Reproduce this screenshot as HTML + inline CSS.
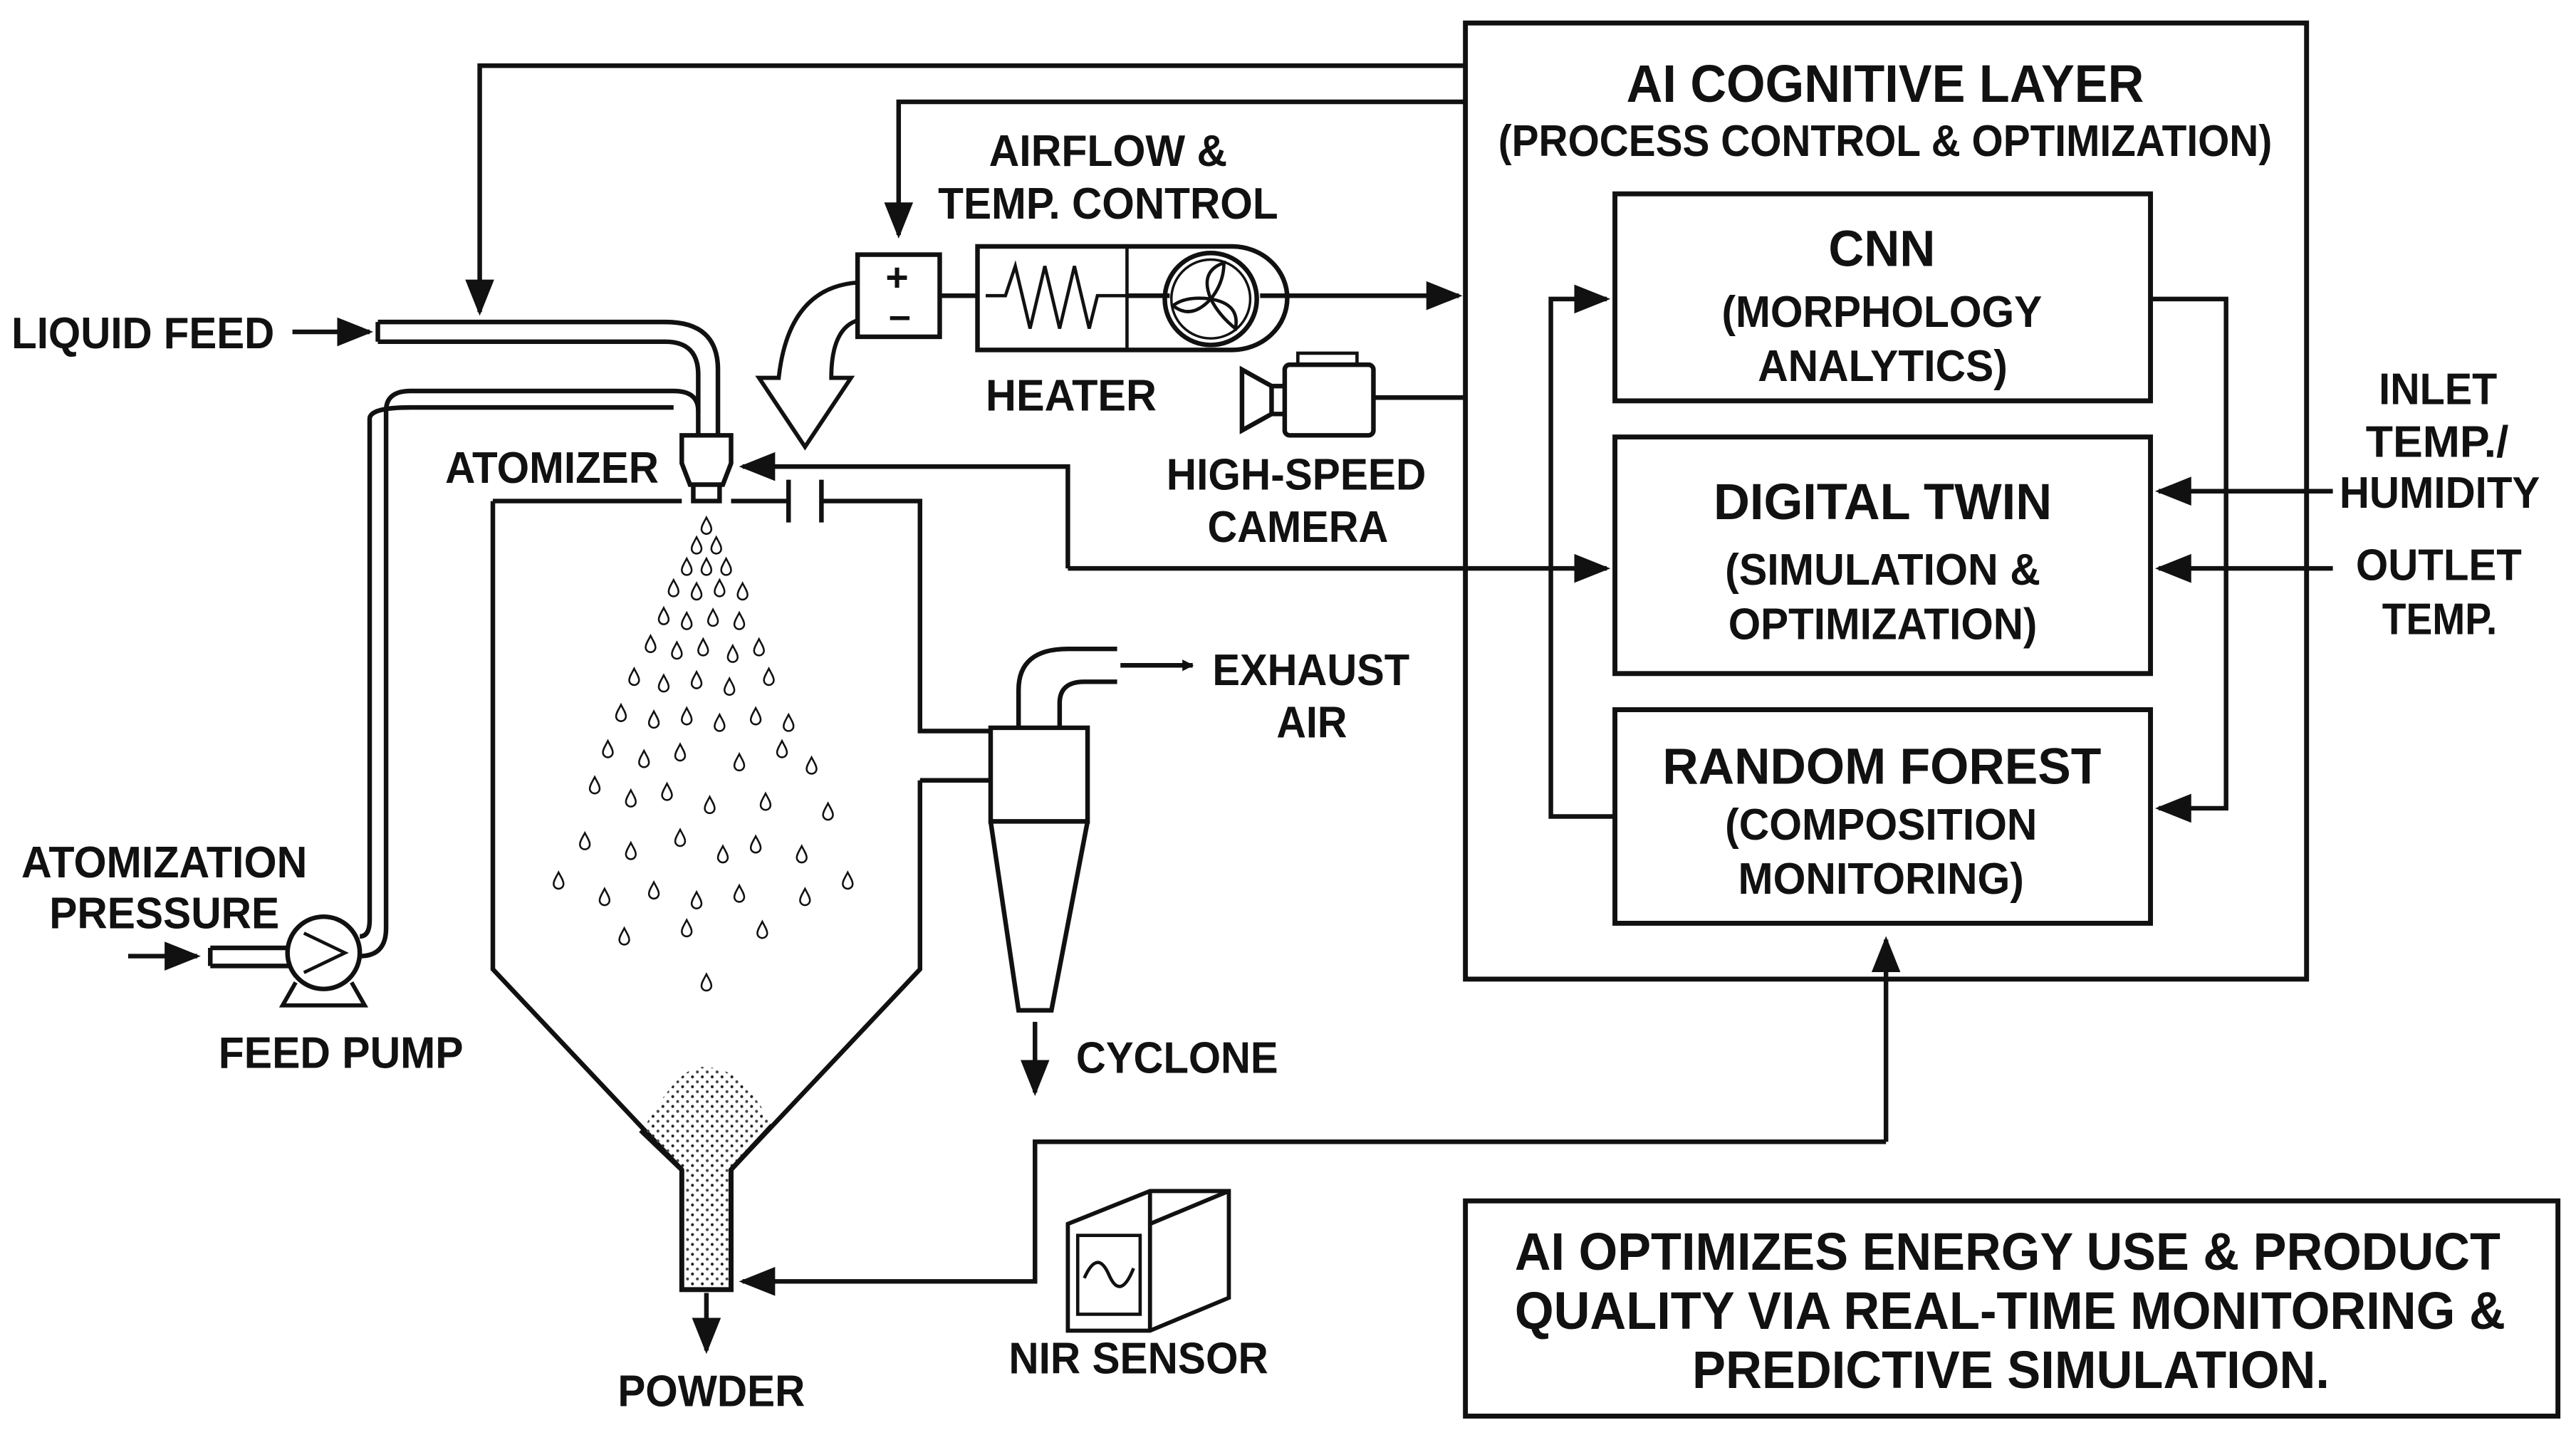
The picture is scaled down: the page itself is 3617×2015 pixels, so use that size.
<!DOCTYPE html>
<html><head><meta charset="utf-8"><style>
html,body{margin:0;padding:0;background:#fff;}
svg{display:block;}
text{font-family:"Liberation Sans",sans-serif;font-weight:bold;fill:#111;}
</style></head><body>
<svg width="3617" height="2015" viewBox="0 0 1568 873.5" preserveAspectRatio="none" xmlns="http://www.w3.org/2000/svg">
<defs>
<marker id="ah" viewBox="0 0 10 10" refX="9" refY="5" markerWidth="7" markerHeight="7" markerUnits="userSpaceOnUse" orient="auto">
<path d="M0,0 L10,5 L0,10 z" fill="#111"/></marker>
<marker id="a2" viewBox="0 0 10 10" refX="9" refY="5" markerWidth="22" markerHeight="22" markerUnits="userSpaceOnUse" orient="auto">
<path d="M0,1 L10,5 L0,9 z" fill="#111"/></marker>
<pattern id="dots" width="6" height="6" patternUnits="userSpaceOnUse">
<circle cx="1.5" cy="1.5" r="0.9" fill="#222"/><circle cx="4.5" cy="4.5" r="0.9" fill="#444"/></pattern>
<path id="dr" d="M0,-5 C1.5,-2 3,0 3,2 A3,3 0 0 1 -3,2 C-3,0 -1.5,-2 0,-5 z" fill="#fff" stroke="#111" stroke-width="1.1"/>
</defs>
<g fill="none" stroke="#111" stroke-width="3">
<rect x="892" y="14" width="512" height="582"/>
<rect x="983" y="118" width="326" height="126"/>
<rect x="983" y="266" width="326" height="144"/>
<rect x="983" y="432" width="326" height="130"/>
<rect x="892" y="731" width="665" height="131"/>
</g>
<g fill="none" stroke="#111" stroke-width="2.8">
<path d="M983,497 H944 V182 H978" marker-end="url(#a2)"/>
<path d="M1309,182 H1355 V492 H1314" marker-end="url(#a2)"/>
<path d="M1420,299 H1314" marker-end="url(#a2)"/>
<path d="M1420,346 H1314" marker-end="url(#a2)"/>
<path d="M892,40 H292 V190" marker-end="url(#a2)"/>
<path d="M892,62 H547 V143" marker-end="url(#a2)"/>
<path d="M767,180 H888" marker-end="url(#a2)"/>
<path d="M835,242 H892"/>
<path d="M650,346 V284 H452" marker-end="url(#a2)"/>
<path d="M650,346 H978" marker-end="url(#a2)"/>
<path d="M1148,695 H630 V780 H452" marker-end="url(#a2)"/>
<path d="M1148,695 V572" marker-end="url(#a2)"/>
<path d="M178,202 H225" marker-end="url(#a2)"/>
<path d="M230,196 H405 Q437,196 437,225 V265"/>
<path d="M230,208 H405 Q425,208 425,228 V265"/>
<path d="M230,196 V208"/>
<path d="M219,582 Q235,582 235,565 V250 Q235,238 250,238 H410 Q425,238 425,250"/>
<path d="M219,570 Q225,570 225,560 V255 Q225,248 250,248 H410"/>
<path d="M78,582 H120" marker-end="url(#a2)"/>
<path d="M128,577 H176 M128,588 H176 M128,577 V588"/>
<path d="M300,305 H415 M445,305 H480 M500,305 H560 V445 H603 M560,475 V590 L445,712 V785 H415 V712 L300,590 V305"/>
<path d="M560,475 H603"/>
<path d="M480,292 V318 M500,292 V318"/>
<path d="M603,443 H662 V500 H603 z"/>
<path d="M603,500 L620,615 H640 L662,500"/>
<path d="M620,443 V420 Q620,395 650,395 H680 M645,443 V428 Q645,415 660,415 H680"/>
<path d="M682,405 H726" marker-end="url(#ah)"/>
<path d="M630,622 V665" marker-end="url(#a2)"/>
<path d="M430,787 V822" marker-end="url(#a2)"/>
<rect x="522" y="155" width="50" height="50"/>
<path d="M572,180 H595"/>
<path d="M595,150 H750 A33,31 0 0 1 750,213 H595 z"/>
<path d="M686,150 V213" stroke-width="2"/>
<path d="M600,180 H612 L618,162 L627,200 L636,162 L645,200 L654,162 L663,200 L668,180 H686" stroke-width="2"/>
<path d="M686,180 H712"/>
<circle cx="737" cy="182" r="28"/>
<circle cx="737" cy="182" r="24" stroke-width="1.5"/>
<path d="M737,182 Q730,165 745,160 Q745,172 737,182 M737,182 Q755,185 752,200 Q742,192 737,182 M737,182 Q725,195 714,186 Q722,180 737,182" stroke-width="2"/>
<path d="M522,172 Q480,175 474,230 H462 L490,272 L518,230 H506 Q506,200 522,195" stroke-width="2.5"/>
<rect x="782" y="222" width="54" height="43" rx="3"/>
<path d="M790,222 V215 H826 V222" stroke-width="2"/>
<path d="M782,235 H774 V252 H782 M774,235 L756,225 V262 L774,252"/>
<path d="M415,265 H445 V282 L440,295 H420 L415,282 z M422,295 V305 H438 V295"/>
<path d="M650,745 L700,725 H748 V790 L700,810 H650 z M700,725 V810 M748,725 L700,745" stroke-width="2.5"/>
<rect x="656" y="752" width="38" height="48" stroke-width="2"/>
<path d="M660,778 Q668,760 675,776 T690,772" stroke-width="2"/>
<circle cx="197" cy="580" r="22"/>
<path d="M185,568 L210,580 L185,592" stroke-width="2"/>
<path d="M180,598 L172,612 H222 L214,598" stroke-width="2.5"/>
</g>
<path d="M390,690 Q415,645 430,650 Q450,648 470,685 L445,712 V785 H415 V712 z" fill="url(#dots)"/>
<path d="M415,712 V785 H445 V712 L470,685 M415,712 L390,688" fill="none" stroke="#111" stroke-width="3"/>
<g>
<use href="#dr" x="430" y="320"/><use href="#dr" x="424" y="332"/><use href="#dr" x="436" y="332"/>
<use href="#dr" x="418" y="345"/><use href="#dr" x="430" y="345"/><use href="#dr" x="442" y="345"/>
<use href="#dr" x="410" y="358"/><use href="#dr" x="424" y="360"/><use href="#dr" x="438" y="358"/><use href="#dr" x="452" y="360"/>
<use href="#dr" x="404" y="375"/><use href="#dr" x="418" y="378"/><use href="#dr" x="434" y="376"/><use href="#dr" x="450" y="378"/>
<use href="#dr" x="396" y="392"/><use href="#dr" x="412" y="396"/><use href="#dr" x="428" y="394"/><use href="#dr" x="446" y="398"/><use href="#dr" x="462" y="394"/>
<use href="#dr" x="386" y="412"/><use href="#dr" x="404" y="416"/><use href="#dr" x="424" y="414"/><use href="#dr" x="444" y="418"/><use href="#dr" x="468" y="412"/>
<use href="#dr" x="378" y="434"/><use href="#dr" x="398" y="438"/><use href="#dr" x="418" y="436"/><use href="#dr" x="438" y="440"/><use href="#dr" x="460" y="436"/><use href="#dr" x="480" y="440"/>
<use href="#dr" x="370" y="456"/><use href="#dr" x="392" y="462"/><use href="#dr" x="414" y="458"/><use href="#dr" x="450" y="464"/><use href="#dr" x="476" y="456"/><use href="#dr" x="494" y="466"/>
<use href="#dr" x="362" y="478"/><use href="#dr" x="384" y="486"/><use href="#dr" x="406" y="482"/><use href="#dr" x="432" y="490"/><use href="#dr" x="466" y="488"/><use href="#dr" x="504" y="494"/>
<use href="#dr" x="356" y="512"/><use href="#dr" x="384" y="518"/><use href="#dr" x="414" y="510"/><use href="#dr" x="440" y="520"/><use href="#dr" x="460" y="514"/><use href="#dr" x="488" y="520"/>
<use href="#dr" x="340" y="536"/><use href="#dr" x="368" y="546"/><use href="#dr" x="398" y="542"/><use href="#dr" x="424" y="548"/><use href="#dr" x="450" y="544"/><use href="#dr" x="490" y="546"/><use href="#dr" x="516" y="536"/>
<use href="#dr" x="380" y="570"/><use href="#dr" x="418" y="565"/><use href="#dr" x="464" y="566"/>
<use href="#dr" x="430" y="598"/>
</g>
<g font-size="27">
<text x="990" y="62" font-size="32" textLength="315" lengthAdjust="spacingAndGlyphs">AI COGNITIVE LAYER</text>
<text x="912" y="95" textLength="471" lengthAdjust="spacingAndGlyphs">(PROCESS CONTROL &amp; OPTIMIZATION)</text>
<text x="1113" y="162" font-size="31" textLength="65" lengthAdjust="spacingAndGlyphs">CNN</text>
<text x="1048" y="199" textLength="195" lengthAdjust="spacingAndGlyphs">(MORPHOLOGY</text>
<text x="1070" y="232" textLength="152" lengthAdjust="spacingAndGlyphs">ANALYTICS)</text>
<text x="1043" y="316" font-size="31" textLength="206" lengthAdjust="spacingAndGlyphs">DIGITAL TWIN</text>
<text x="1050" y="356" textLength="192" lengthAdjust="spacingAndGlyphs">(SIMULATION &amp;</text>
<text x="1052" y="389" textLength="188" lengthAdjust="spacingAndGlyphs">OPTIMIZATION)</text>
<text x="1012" y="477" font-size="31" textLength="267" lengthAdjust="spacingAndGlyphs">RANDOM FOREST</text>
<text x="1050" y="511" textLength="190" lengthAdjust="spacingAndGlyphs">(COMPOSITION</text>
<text x="1058" y="544" textLength="174" lengthAdjust="spacingAndGlyphs">MONITORING)</text>
<text x="922" y="773" font-size="32" textLength="600" lengthAdjust="spacingAndGlyphs">AI OPTIMIZES ENERGY USE &amp; PRODUCT</text>
<text x="922" y="809" font-size="32" textLength="603" lengthAdjust="spacingAndGlyphs">QUALITY VIA REAL-TIME MONITORING &amp;</text>
<text x="1030" y="845" font-size="32" textLength="388" lengthAdjust="spacingAndGlyphs">PREDICTIVE SIMULATION.</text>
<text x="1448" y="246" textLength="72" lengthAdjust="spacingAndGlyphs">INLET</text>
<text x="1440" y="278" textLength="87" lengthAdjust="spacingAndGlyphs">TEMP./</text>
<text x="1424" y="309" textLength="122" lengthAdjust="spacingAndGlyphs">HUMIDITY</text>
<text x="1434" y="353" textLength="101" lengthAdjust="spacingAndGlyphs">OUTLET</text>
<text x="1450" y="386" textLength="70" lengthAdjust="spacingAndGlyphs">TEMP.</text>
<text x="7" y="212" textLength="160" lengthAdjust="spacingAndGlyphs">LIQUID FEED</text>
<text x="271" y="294" textLength="130" lengthAdjust="spacingAndGlyphs">ATOMIZER</text>
<text x="602" y="101" textLength="145" lengthAdjust="spacingAndGlyphs">AIRFLOW &amp;</text>
<text x="571" y="133" textLength="207" lengthAdjust="spacingAndGlyphs">TEMP. CONTROL</text>
<text x="600" y="250" textLength="104" lengthAdjust="spacingAndGlyphs">HEATER</text>
<text x="710" y="298" textLength="158" lengthAdjust="spacingAndGlyphs">HIGH-SPEED</text>
<text x="735" y="330" textLength="110" lengthAdjust="spacingAndGlyphs">CAMERA</text>
<text x="738" y="417" textLength="120" lengthAdjust="spacingAndGlyphs">EXHAUST</text>
<text x="777" y="449" textLength="43" lengthAdjust="spacingAndGlyphs">AIR</text>
<text x="655" y="653" textLength="123" lengthAdjust="spacingAndGlyphs">CYCLONE</text>
<text x="376" y="856" textLength="114" lengthAdjust="spacingAndGlyphs">POWDER</text>
<text x="614" y="836" textLength="158" lengthAdjust="spacingAndGlyphs">NIR SENSOR</text>
<text x="133" y="650" textLength="149" lengthAdjust="spacingAndGlyphs">FEED PUMP</text>
<text x="13" y="534" textLength="174" lengthAdjust="spacingAndGlyphs">ATOMIZATION</text>
<text x="30" y="565" textLength="140" lengthAdjust="spacingAndGlyphs">PRESSURE</text>
<text x="539" y="177" font-size="24">+</text>
<text x="541" y="200" font-size="24">–</text>
</g>
</svg>
</body></html>
